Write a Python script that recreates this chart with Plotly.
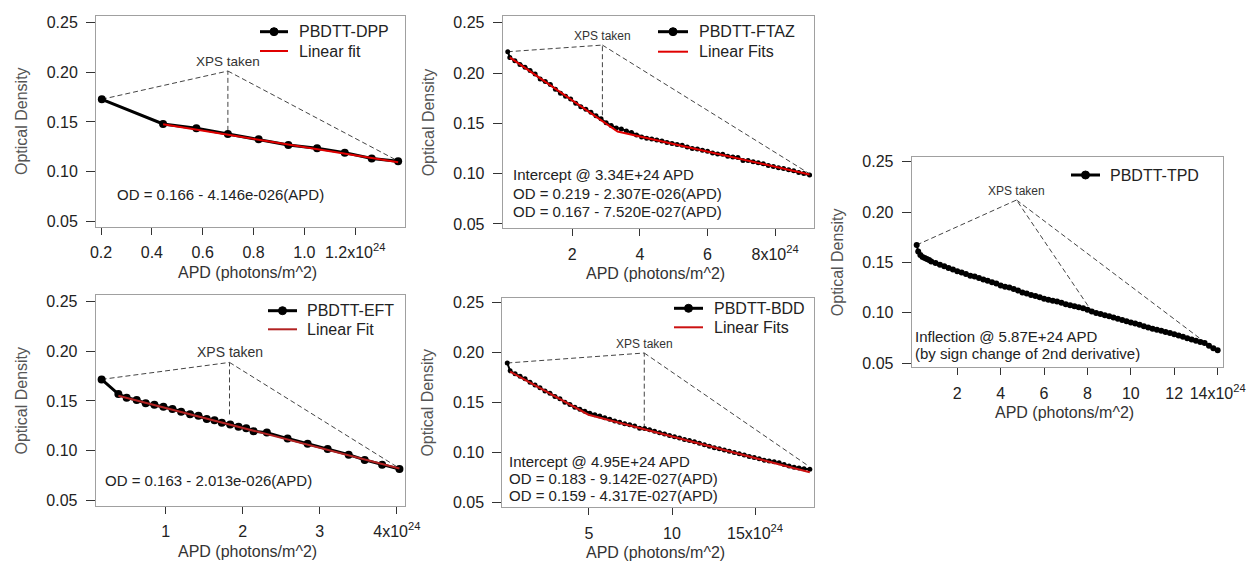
import plotly.graph_objects as go

W, H = 1247, 561
FONT = "Liberation Sans, Arial, sans-serif"

# ---------------- data (APD in units of 1e24 photons/m^2) ----------------
dpp_x = [0.203, 0.444, 0.575, 0.699, 0.820, 0.937, 1.050, 1.159, 1.265, 1.369]
dpp_y = [0.1728, 0.1479, 0.1436, 0.1378, 0.1325, 0.1267, 0.1234, 0.1190, 0.1130, 0.1103]
dpp_fit = [0.166, -0.04146]          # intercept, slope (per 1e24)
dpp_fit_x = [0.444, 1.369]

ftaz_x = [0.09, 0.15, 0.3, 0.45, 0.6, 0.75, 0.9, 1.05, 1.2, 1.35, 1.5, 1.65, 1.8, 1.95,
          2.1, 2.25, 2.4, 2.55, 2.7, 2.85, 3.0, 3.15, 3.3, 3.45, 3.6, 3.75, 3.9, 4.05,
          4.2, 4.35, 4.5, 4.65, 4.8, 4.95, 5.1, 5.25, 5.4, 5.55, 5.7, 5.85, 6.0, 6.15,
          6.3, 6.45, 6.6, 6.75, 6.9, 7.05, 7.2, 7.35, 7.5, 7.65, 7.8, 7.95, 8.1, 8.25,
          8.4, 8.55, 8.7, 8.85, 9.02]
ftaz_y = [0.2212, 0.2155, 0.2121, 0.2086, 0.2058, 0.2025, 0.1990, 0.1940, 0.1915, 0.1885,
          0.1840, 0.1800, 0.1770, 0.1742, 0.1700, 0.1665, 0.1640, 0.1610, 0.1575, 0.1545,
          0.1505, 0.1478, 0.1455, 0.1445, 0.1425, 0.1410, 0.1385, 0.1365, 0.1352, 0.1345,
          0.1335, 0.1325, 0.1310, 0.1300, 0.1290, 0.1282, 0.1265, 0.1250, 0.1245, 0.1232,
          0.1222, 0.1205, 0.1195, 0.1192, 0.1172, 0.1165, 0.1160, 0.1132, 0.1130, 0.1118,
          0.1108, 0.1098, 0.1082, 0.1070, 0.1060, 0.1052, 0.1040, 0.1028, 0.1012, 0.1002,
          0.0987]
ftaz_fit1 = [0.219, -0.02307]
ftaz_fit2 = [0.167, -0.00752]
ftaz_fit_x = [0.15, 3.34, 9.02]

eft_x = [0.168, 0.385, 0.493, 0.623, 0.740, 0.853, 0.970, 1.087, 1.200, 1.316, 1.425, 1.533,
         1.633, 1.728, 1.837, 1.945, 2.045, 2.140, 2.313, 2.582, 2.842, 3.102, 3.375, 3.583,
         3.809, 4.034]
eft_y = [0.1717, 0.1569, 0.1532, 0.1510, 0.1475, 0.1460, 0.1440, 0.1418, 0.1390, 0.1365,
         0.1350, 0.1318, 0.1305, 0.1280, 0.1262, 0.1240, 0.1225, 0.1195, 0.1180, 0.1120,
         0.1068, 0.1015, 0.0958, 0.0905, 0.0855, 0.0812]
eft_fit = [0.163, -0.02013]
eft_fit_x = [0.385, 4.034]

bdd_x = [0.08, 0.25, 0.55, 0.85, 1.15, 1.45, 1.75, 2.05, 2.35, 2.65, 2.95, 3.25, 3.55, 3.85,
         4.15, 4.45, 4.75, 5.05, 5.35, 5.65, 5.95, 6.25, 6.55, 6.85, 7.15, 7.45, 7.75, 8.05,
         8.35, 8.65, 8.95, 9.25, 9.55, 9.85, 10.15, 10.45, 10.75, 11.05, 11.35, 11.65, 11.95,
         12.25, 12.55, 12.85, 13.15, 13.45, 13.75, 14.05, 14.35, 14.65, 14.95, 15.25, 15.55,
         15.85, 16.15, 16.45, 16.75, 17.05, 17.35, 17.65, 17.95, 18.3]
bdd_y = [0.1893, 0.1815, 0.1785, 0.1760, 0.1735, 0.1700, 0.1672, 0.1645, 0.1612, 0.1590,
         0.1558, 0.1535, 0.1500, 0.1478, 0.1450, 0.1430, 0.1410, 0.1390, 0.1375, 0.1362,
         0.1345, 0.1330, 0.1312, 0.1300, 0.1285, 0.1275, 0.1262, 0.1240, 0.1238, 0.1225,
         0.1210, 0.1195, 0.1182, 0.1168, 0.1155, 0.1142, 0.1128, 0.1118, 0.1105, 0.1090,
         0.1075, 0.1060, 0.1045, 0.1035, 0.1022, 0.1010, 0.0998, 0.0985, 0.0972, 0.0958,
         0.0948, 0.0935, 0.0920, 0.0912, 0.0905, 0.0895, 0.0878, 0.0862, 0.0850, 0.0842,
         0.0835, 0.0830]
bdd_fit1 = [0.183, -0.009142]
bdd_fit2 = [0.159, -0.004317]
bdd_fit_x = [0.25, 4.97, 18.3]

tpd_x = [0.13, 0.2, 0.3, 0.4, 0.5, 0.6, 0.7, 0.8, 1.0, 1.2, 1.4, 1.6, 1.8, 2.0, 2.2, 2.4,
         2.6, 2.8, 3.0, 3.2, 3.4, 3.6, 3.8, 4.0, 4.2, 4.4, 4.6, 4.8, 5.0, 5.2, 5.4, 5.6,
         5.8, 6.0, 6.2, 6.4, 6.6, 6.8, 7.0, 7.2, 7.4, 7.6, 7.8, 8.0, 8.2, 8.4, 8.6, 8.8,
         9.0, 9.2, 9.4, 9.6, 9.8, 10.0, 10.2, 10.4, 10.6, 10.8, 11.0, 11.2, 11.4, 11.6,
         11.8, 12.0, 12.2, 12.4, 12.6, 12.8, 13.0, 13.2, 13.4, 13.6, 13.8, 14.0]
tpd_y = [0.1674, 0.1610, 0.1575, 0.1555, 0.1545, 0.1535, 0.1525, 0.1510, 0.1495, 0.1478,
         0.1462, 0.1445, 0.1430, 0.1412, 0.1400, 0.1385, 0.1368, 0.1360, 0.1345, 0.1332,
         0.1318, 0.1305, 0.1292, 0.1272, 0.1260, 0.1252, 0.1238, 0.1222, 0.1202, 0.1192,
         0.1178, 0.1168, 0.1155, 0.1140, 0.1130, 0.1120, 0.1112, 0.1100, 0.1085, 0.1075,
         0.1066, 0.1055, 0.1045, 0.1030, 0.1015, 0.1000, 0.0990, 0.0976, 0.0966, 0.0953,
         0.0942, 0.0930, 0.0918, 0.0905, 0.0894, 0.0882, 0.0868, 0.0856, 0.0843, 0.0833,
         0.0823, 0.0810, 0.0800, 0.0788, 0.0776, 0.0762, 0.0748, 0.0736, 0.0724, 0.0712,
         0.0700, 0.0675, 0.0650, 0.0628]

x_ticks = {
    1: ([0.2, 0.4, 0.6, 0.8, 1.0, 1.2], ["0.2", "0.4", "0.6", "0.8", "1.0", "1.2x10<sup>24</sup>"]),
    2: ([2, 4, 6, 8], ["2", "4", "6", "8x10<sup>24</sup>"]),
    3: ([1, 2, 3, 4], ["1", "2", "3", "4x10<sup>24</sup>"]),
    4: ([5, 10, 15], ["5", "10", "15x10<sup>24</sup>"]),
    5: ([2, 4, 6, 8, 10, 12, 14], ["2", "4", "6", "8", "10", "12", "14x10<sup>24</sup>"]),
}
y_ticks = [0.05, 0.10, 0.15, 0.20, 0.25]
y_ticktext = ["0.05", "0.10", "0.15", "0.20", "0.25"]

names = {1: ("PBDTT-DPP", "Linear fit"), 2: ("PBDTT-FTAZ", "Linear Fits"),
         3: ("PBDTT-EFT", "Linear Fit"), 4: ("PBDTT-BDD", "Linear Fits"), 5: ("PBDTT-TPD", None)}

# XPS-taken guide points: start, apex, ends
xps = {
    1: [(0.203, 0.1728), (0.699, 0.2013), [(0.699, 0.141), (1.369, 0.1105)]],
    2: [(0.09, 0.2212), (2.89, 0.2278), [(2.89, 0.1533), (9.0, 0.1003)]],
    3: [(0.168, 0.1717), (1.828, 0.1888), [(1.828, 0.134), (4.0, 0.0836)]],
    4: [(0.08, 0.1893), (8.33, 0.1993), [(8.33, 0.1263), (18.2, 0.0865)]],
    5: [(0.13, 0.1674), (4.73, 0.212), [(8.2, 0.1015), (13.5, 0.0695)]],
}

text_blocks = {
    1: [(0.255, 0.0763, "OD = 0.166 - 4.146e-026(APD)")],
    2: [(0.186, 0.0996, "Intercept @ 3.34E+24 APD"),
        (0.186, 0.0806, "OD = 0.219 - 2.307E-026(APD)"),
        (0.186, 0.0621, "OD = 0.167 - 7.520E-027(APD)")],
    3: [(0.189, 0.0695, "OD = 0.163 - 2.013e-026(APD)")],
    4: [(0.084, 0.0908, "Intercept @ 4.95E+24 APD"),
        (0.084, 0.0739, "OD = 0.183 - 9.142E-027(APD)"),
        (0.084, 0.0566, "OD = 0.159 - 4.317E-027(APD)")],
    5: [(-0.06, 0.0764, "Inflection @ 5.87E+24 APD"),
        (-0.06, 0.0593, "(by sign change of 2nd derivative)")],
}

# ---------------- layout geometry (pixels) ----------------
frames = {  # left, right, top, bottom
    1: (96, 405, 16, 227),
    2: (502.7, 814.3, 16, 228.3),
    3: (95.7, 405.3, 295, 505.7),
    4: (502.3, 814.3, 298.3, 507.3),
    5: (911.7, 1223.3, 156.7, 367.3),
}
xranges = {1: [0.180, 1.396], 2: [-0.06, 9.16], 3: [0.091, 4.11], 4: [-0.22, 18.57], 5: [-0.10, 14.26]}
yranges = {1: [0.044, 0.2568], 2: [0.0457, 0.2567], 3: [0.0443, 0.2568], 4: [0.045, 0.254], 5: [0.046, 0.255]}
msize = {1: 8, 2: 5, 3: 8, 4: 5, 5: 6}
lw = {1: 3, 2: 2, 3: 3, 4: 2, 5: 2}
redc = {1: "#e00000", 2: "#e00000", 3: "#b22222", 4: "#cc1111", 5: "#e00000"}
xps_size = {1: 13.5, 2: 12, 3: 14, 4: 12, 5: 12}
# legend geometry: line x0, x1, text x, row1 y, row2 y
legend_geo = {1: (260, 288, 297, 31.7, 51.0), 2: (658, 688, 697, 31.7, 51.7),
              3: (268, 297, 305, 310.7, 329.3), 4: (674, 703, 712, 308.3, 327.3),
              5: (1071, 1100, 1108, 175.0, None)}

fig = go.Figure()


def lin(c, x):
    return c[0] + c[1] * x


series = {
    1: (dpp_x, dpp_y, dpp_fit_x, [lin(dpp_fit, v) for v in dpp_fit_x]),
    2: (ftaz_x, ftaz_y, ftaz_fit_x,
        [lin(ftaz_fit1, ftaz_fit_x[0]), lin(ftaz_fit1, ftaz_fit_x[1]), lin(ftaz_fit2, ftaz_fit_x[2])]),
    3: (eft_x, eft_y, eft_fit_x, [lin(eft_fit, v) for v in eft_fit_x]),
    4: (bdd_x, bdd_y, bdd_fit_x,
        [lin(bdd_fit1, bdd_fit_x[0]), lin(bdd_fit1, bdd_fit_x[1]), lin(bdd_fit2, bdd_fit_x[2])]),
    5: (tpd_x, tpd_y, None, None),
}

layout = dict(width=W, height=H, margin=dict(l=0, r=0, t=0, b=0, autoexpand=False),
              paper_bgcolor="white", plot_bgcolor="white",
              font=dict(family=FONT, size=16, color="#222"), showlegend=False)
annotations = []
shapes = []


def px(xp):
    return xp / W


def py(yp):
    return 1 - yp / H


for i in range(1, 6):
    xs, ys, fx, fy = series[i]
    sfx = "" if i == 1 else str(i)
    xa, ya = "x" + sfx, "y" + sfx
    # XPS guide lines
    (sx, sy), (ax_, ay_), ends = xps[i]
    gx = [sx, ax_]
    gy = [sy, ay_]
    for (ex, ey) in ends:
        gx += [ex, None, ax_]
        gy += [ey, None, ay_]
    fig.add_trace(go.Scatter(x=gx[:-2], y=gy[:-2], mode="lines", xaxis=xa, yaxis=ya,
                             line=dict(color="#444", width=1, dash="5px,3px"),
                             showlegend=False, hoverinfo="skip"))
    fig.add_trace(go.Scatter(x=xs, y=ys, mode="lines+markers", name=names[i][0],
                             xaxis=xa, yaxis=ya,
                             line=dict(color="black", width=lw[i]),
                             marker=dict(color="black", size=msize[i])))
    if fx is not None:
        fig.add_trace(go.Scatter(x=fx, y=fy, mode="lines", name=names[i][1],
                                 xaxis=xa, yaxis=ya,
                                 line=dict(color=redc[i], width=2)))
    l, r, t, b = frames[i]
    tv, tt = x_ticks[i]
    layout["xaxis" + sfx] = dict(domain=[l / W, r / W], range=xranges[i], anchor=ya,
                                 showline=True, linecolor="#a0a0a0", linewidth=1, mirror=True,
                                 ticks="outside", ticklen=7, tickcolor="#333", tickwidth=1,
                                 tickvals=tv, ticktext=tt, showgrid=False, zeroline=False,
                                 ticklabelstandoff=4,
                                 tickfont=dict(family=FONT, size=16, color="#222"))
    layout["yaxis" + sfx] = dict(domain=[1 - b / H, 1 - t / H], range=yranges[i], anchor=xa,
                                 showline=True, linecolor="#a0a0a0", linewidth=1, mirror=True,
                                 ticks="outside", ticklen=9, tickcolor="#333", tickwidth=1,
                                 tickvals=y_ticks, ticktext=y_ticktext, showgrid=False,
                                 zeroline=False, ticklabelstandoff=5,
                                 tickfont=dict(family=FONT, size=16, color="#222"))
    # legend (drawn as shapes + text)
    lx0, lx1, tx, r1, r2 = legend_geo[i]
    shapes.append(dict(type="line", xref="paper", yref="paper", x0=px(lx0), x1=px(lx1),
                       y0=py(r1), y1=py(r1), line=dict(color="black", width=3)))
    cx = (lx0 + lx1) / 2
    rad = 4
    shapes.append(dict(type="circle", xref="paper", yref="paper", x0=px(cx - rad), x1=px(cx + rad),
                       y0=py(r1 + rad), y1=py(r1 - rad), fillcolor="black",
                       line=dict(color="black", width=1)))
    annotations.append(dict(text=names[i][0], xref="paper", yref="paper", x=px(tx), y=py(r1),
                            xanchor="left", yanchor="middle", showarrow=False,
                            font=dict(family=FONT, size=16, color="#222")))
    if r2 is not None:
        shapes.append(dict(type="line", xref="paper", yref="paper", x0=px(lx0), x1=px(lx1),
                           y0=py(r2), y1=py(r2), line=dict(color=redc[i], width=2)))
        annotations.append(dict(text=names[i][1], xref="paper", yref="paper", x=px(tx), y=py(r2),
                                xanchor="left", yanchor="middle", showarrow=False,
                                font=dict(family=FONT, size=16, color="#222")))
    # axis titles
    annotations.append(dict(text="Optical Density", xref="paper", yref="paper",
                            x=(l - 74.5) / W, y=1 - ((t + b) / 2) / H, textangle=-90,
                            showarrow=False, font=dict(family=FONT, size=16, color="#555"),
                            xanchor="center", yanchor="middle"))
    annotations.append(dict(text="APD (photons/m^2)", xref="paper", yref="paper",
                            x=((l + r) / 2 - 3) / W, y=1 - (b + 45.5) / H,
                            showarrow=False, font=dict(family=FONT, size=16, color="#333"),
                            xanchor="center", yanchor="middle"))
    # XPS taken label
    annotations.append(dict(text="XPS taken", xref=xa, yref=ya, x=ax_, y=ay_,
                            yshift=0, showarrow=False, xanchor="center", yanchor="bottom",
                            font=dict(family=FONT, size=xps_size[i], color="#333")))

for i, items in text_blocks.items():
    sfx = "" if i == 1 else str(i)
    for (tx, ty, s) in items:
        annotations.append(dict(text=s, xref="x" + sfx, yref="y" + sfx, x=tx, y=ty,
                                showarrow=False, xanchor="left", yanchor="middle",
                                font=dict(family=FONT, size=15, color="#222")))

layout["annotations"] = annotations
layout["shapes"] = shapes
fig.update_layout(**layout)
fig.write_html("out.html")
